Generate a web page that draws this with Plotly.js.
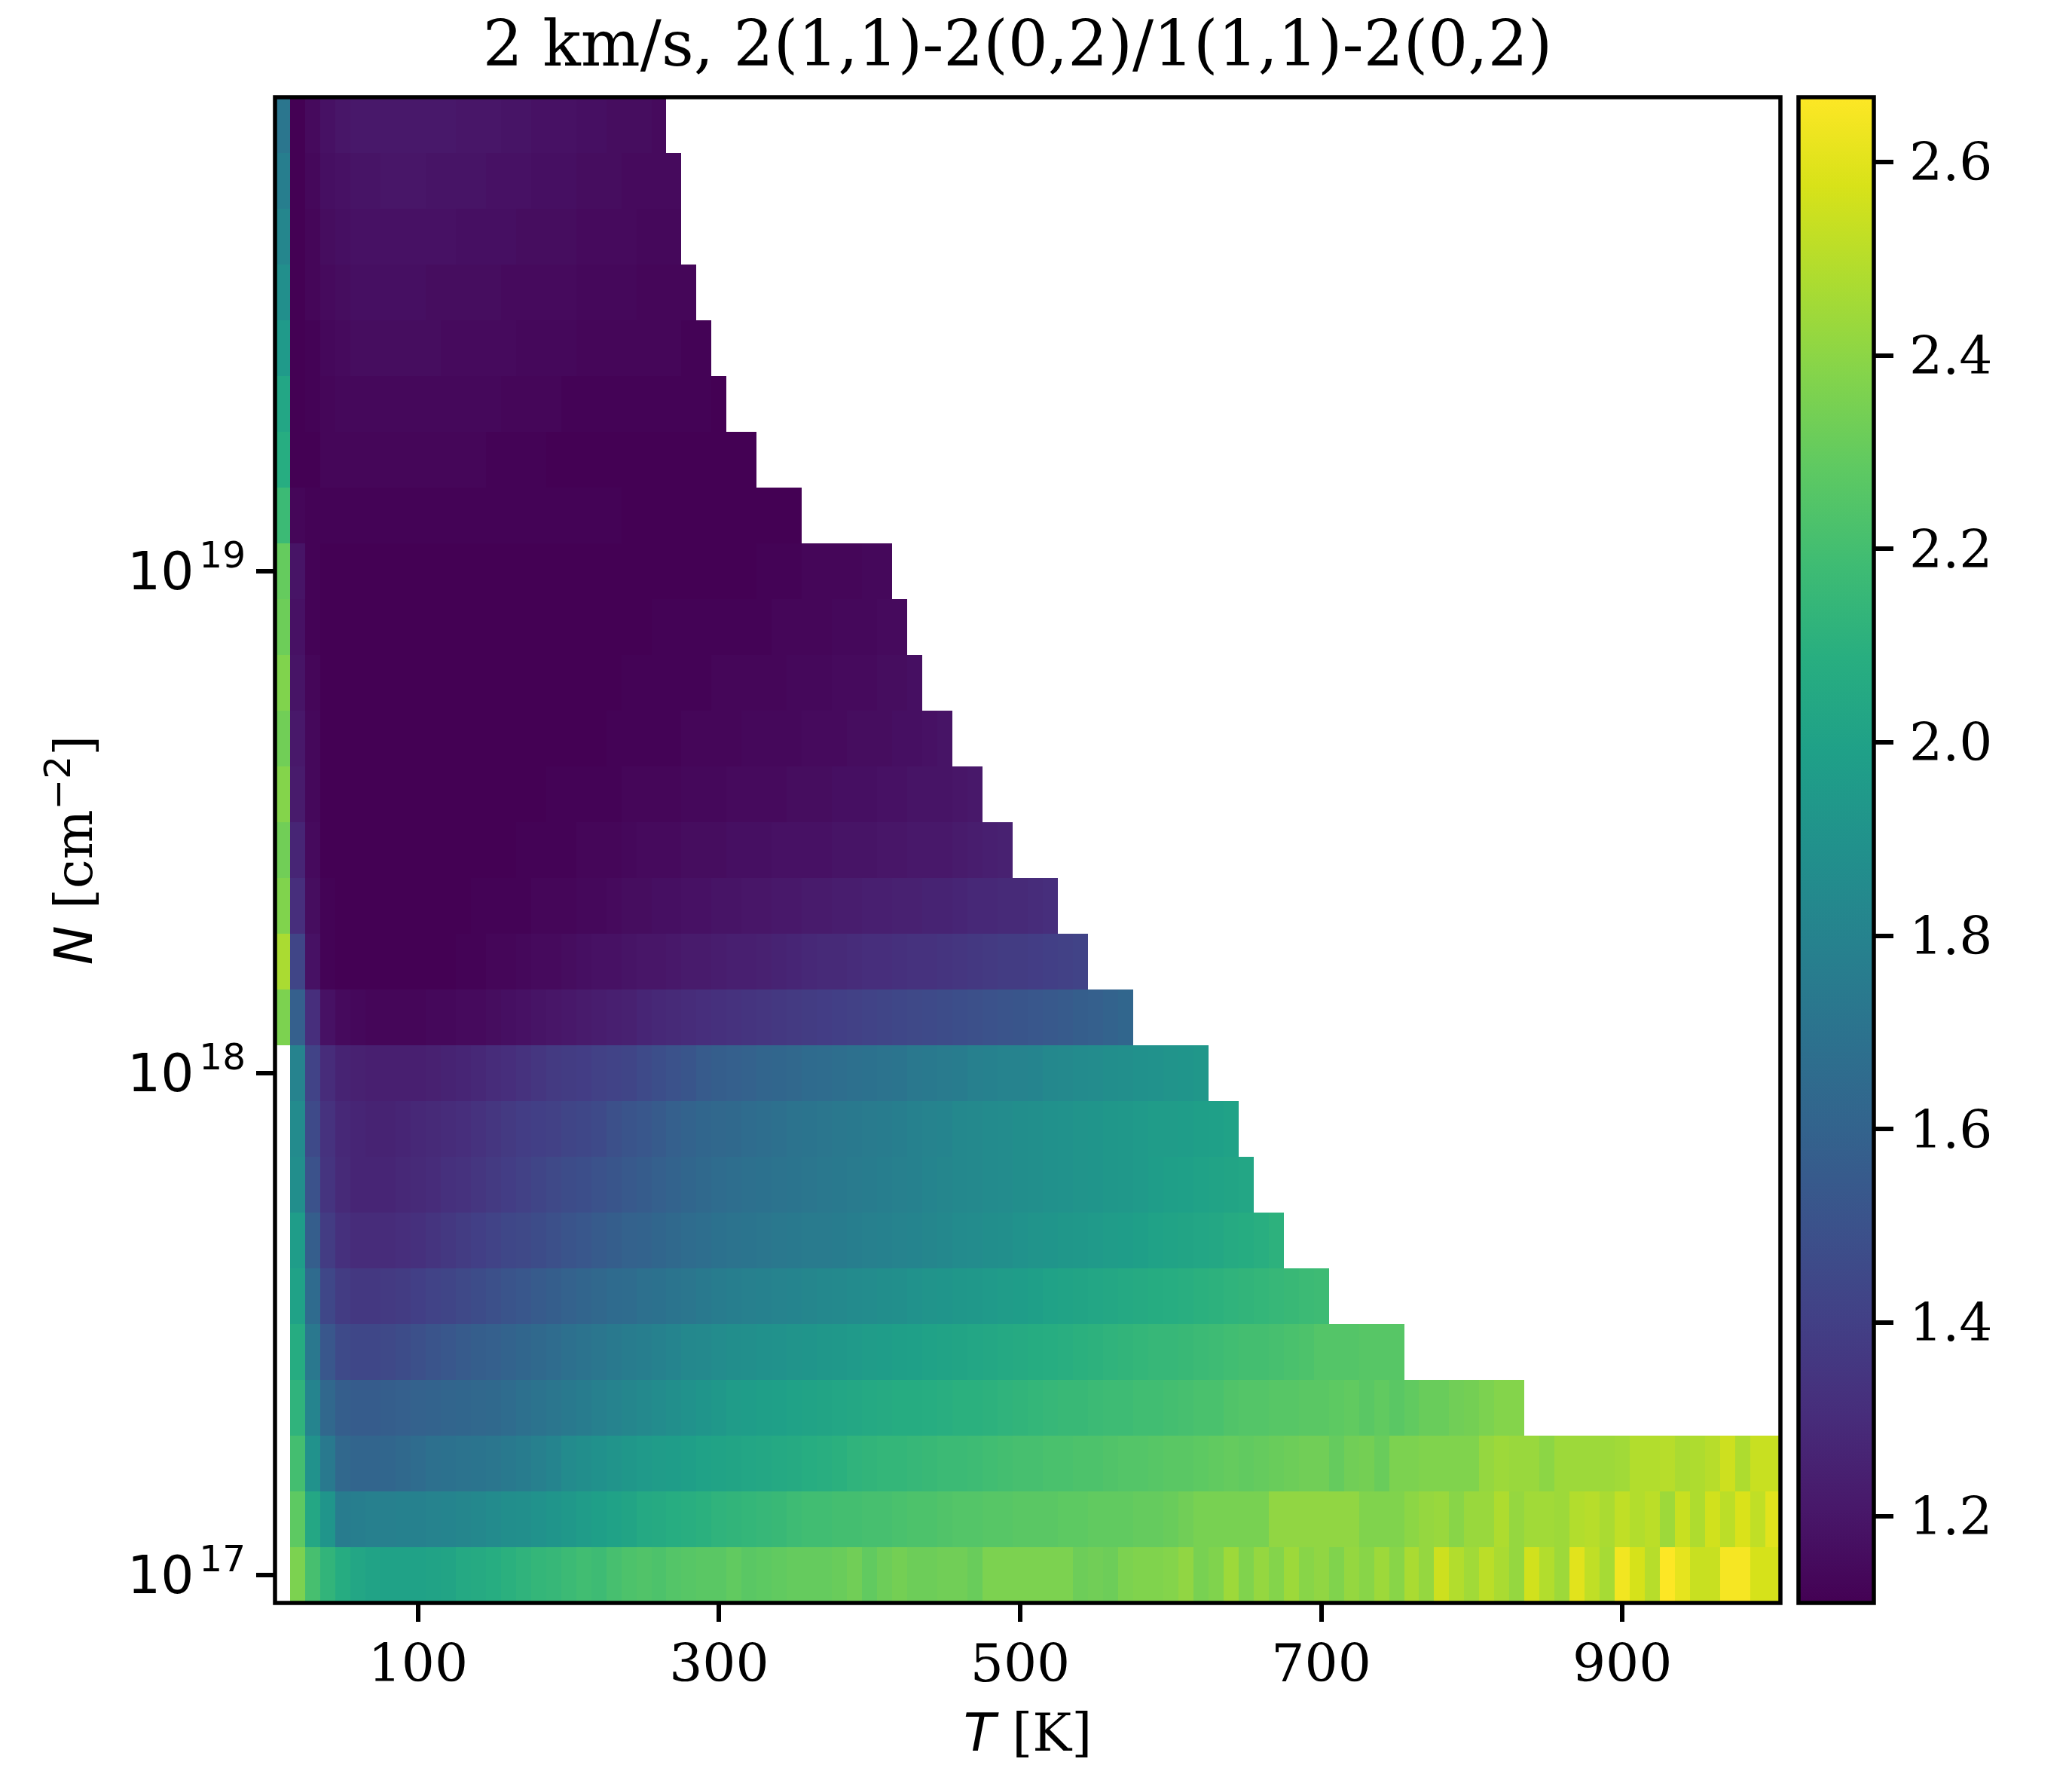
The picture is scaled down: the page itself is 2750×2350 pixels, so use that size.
<!DOCTYPE html>
<html>
<head>
<meta charset="utf-8">
<script src="https://cdn.plot.ly/plotly-3.0.1.min.js"></script>
<style>html,body{margin:0;padding:0;background:#fff}</style>
</head>
<body>
<div id="chart" style="width:2750px;height:2350px"></div>
<script>
const titleText = "2 km/s, 2(1,1)-2(0,2)/1(1,1)-2(0,2)";
const xTickVals = [100,300,500,700,900];
const yTickVals = [1e17,1e18,1e19];
const yTickText = ["10\u200a<sup>17</sup>","10\u200a<sup>18</sup>","10\u200a<sup>19</sup>"];
const temperature = [10,20,30,40,50,60,70,80,90,100,
110,120,130,140,150,160,170,180,190,200,
210,220,230,240,250,260,270,280,290,300,
310,320,330,340,350,360,370,380,390,400,
410,420,430,440,450,460,470,480,490,500,
510,520,530,540,550,560,570,580,590,600,
610,620,630,640,650,660,670,680,690,700,
710,720,730,740,750,760,770,780,790,800,
810,820,830,840,850,860,870,880,890,900,
910,920,930,940,950,960,970,980,990,1000];
const column = [1.000e17,1.292e17,1.668e17,2.154e17,2.783e17,3.594e17,4.642e17,5.995e17,7.743e17,
1.000e18,1.292e18,1.668e18,2.154e18,2.783e18,3.594e18,4.642e18,5.995e18,7.743e18,
1.000e19,1.292e19,1.668e19,2.154e19,2.783e19,3.594e19,4.642e19,5.995e19,7.743e19];

const row00 = [null,2.36,2.21,2.13,2.07,2.03,2.01,2.00,2.00,2.00,
2.01,2.02,2.05,2.06,2.08,2.10,2.12,2.14,2.15,2.17,
2.19,2.18,2.21,2.23,2.24,2.23,2.25,2.26,2.27,2.27,
2.29,2.27,2.28,2.29,2.30,2.30,2.30,2.31,2.33,2.29,
2.32,2.34,2.32,2.32,2.33,2.33,2.31,2.36,2.36,2.36,
2.36,2.36,2.36,2.32,2.33,2.32,2.36,2.37,2.37,2.38,
2.41,2.35,2.37,2.44,2.37,2.42,2.38,2.44,2.39,2.41,
2.37,2.42,2.39,2.44,2.39,2.47,2.42,2.55,2.49,2.45,
2.51,2.47,2.42,2.56,2.49,2.44,2.60,2.52,2.46,2.64,
2.57,2.50,2.667,2.61,2.54,2.54,2.65,2.65,2.57,2.57];
const row01 = [null,2.28,2.04,1.92,1.76,1.77,1.78,1.78,1.79,1.79,
1.80,1.81,1.82,1.83,1.85,1.87,1.88,1.90,1.92,1.94,
1.96,1.98,2.00,2.02,2.05,2.06,2.08,2.09,2.10,2.12,
2.13,2.14,2.15,2.16,2.18,2.19,2.19,2.20,2.20,2.21,
2.21,2.22,2.23,2.23,2.24,2.25,2.25,2.26,2.26,2.27,
2.27,2.27,2.28,2.28,2.29,2.29,2.29,2.30,2.30,2.31,
2.33,2.35,2.35,2.35,2.35,2.35,2.41,2.41,2.41,2.41,
2.41,2.41,2.37,2.37,2.37,2.40,2.42,2.43,2.39,2.43,
2.43,2.48,2.42,2.45,2.45,2.44,2.49,2.50,2.47,2.52,
2.49,2.51,2.44,2.54,2.48,2.56,2.51,2.58,2.52,2.60];
const row02 = [null,2.20,1.90,1.74,1.63,1.61,1.61,1.62,1.64,1.66,
1.68,1.69,1.70,1.71,1.72,1.74,1.76,1.78,1.81,1.85,
1.87,1.89,1.91,1.93,1.95,1.96,1.97,1.98,2.00,2.01,
2.02,2.03,2.04,2.05,2.06,2.08,2.09,2.10,2.12,2.13,
2.14,2.14,2.15,2.16,2.17,2.17,2.18,2.19,2.20,2.21,
2.21,2.22,2.22,2.23,2.23,2.24,2.25,2.25,2.26,2.27,
2.27,2.28,2.29,2.30,2.29,2.30,2.31,2.32,2.33,2.33,
2.30,2.33,2.34,2.31,2.36,2.36,2.37,2.37,2.37,2.37,
2.42,2.44,2.43,2.43,2.40,2.44,2.44,2.44,2.44,2.45,
2.49,2.49,2.50,2.47,2.48,2.50,2.55,2.48,2.54,2.54];
const row03 = [null,2.12,1.81,1.63,1.57,1.56,1.56,1.57,1.58,1.59,
1.60,1.61,1.62,1.63,1.64,1.66,1.68,1.70,1.72,1.74,
1.76,1.78,1.80,1.82,1.84,1.86,1.88,1.90,1.92,1.94,
1.96,1.97,1.98,1.99,2.00,2.01,2.02,2.03,2.04,2.05,
2.06,2.07,2.07,2.08,2.09,2.10,2.10,2.11,2.12,2.13,
2.14,2.15,2.16,2.16,2.17,2.18,2.18,2.19,2.19,2.20,
2.21,2.22,2.22,2.24,2.25,2.25,2.26,2.26,2.27,2.27,
2.28,2.29,2.27,2.29,2.27,2.29,2.31,2.31,2.33,2.34,
2.36,2.38,2.38];
const row04 = [null,2.07,1.73,1.53,1.46,1.44,1.44,1.45,1.47,1.49,
1.51,1.53,1.55,1.57,1.58,1.60,1.62,1.64,1.66,1.68,
1.70,1.72,1.74,1.76,1.77,1.79,1.81,1.83,1.84,1.86,
1.87,1.88,1.89,1.90,1.91,1.92,1.93,1.94,1.95,1.96,
1.97,1.98,1.99,2.00,2.01,2.02,2.03,2.04,2.05,2.06,
2.07,2.08,2.09,2.10,2.11,2.12,2.13,2.14,2.15,2.15,
2.16,2.17,2.18,2.19,2.20,2.20,2.21,2.22,2.23,2.25,
2.25,2.25,2.26,2.26,2.26];
const row05 = [null,2.00,1.65,1.44,1.38,1.36,1.36,1.37,1.38,1.40,
1.42,1.43,1.45,1.47,1.49,1.51,1.53,1.55,1.57,1.59,
1.61,1.63,1.65,1.66,1.68,1.69,1.71,1.72,1.74,1.76,
1.77,1.78,1.79,1.80,1.81,1.82,1.83,1.84,1.85,1.86,
1.87,1.88,1.90,1.91,1.92,1.93,1.94,1.95,1.96,1.97,
1.98,2.00,2.01,2.02,2.03,2.04,2.05,2.06,2.07,2.08,
2.09,2.10,2.11,2.12,2.13,2.14,2.15,2.16,2.17,2.18];
const row06 = [null,1.97,1.57,1.38,1.32,1.30,1.30,1.30,1.31,1.32,
1.34,1.36,1.38,1.40,1.42,1.44,1.45,1.47,1.49,1.51,
1.53,1.55,1.57,1.59,1.60,1.62,1.64,1.66,1.67,1.69,
1.70,1.71,1.72,1.73,1.74,1.75,1.75,1.76,1.77,1.78,
1.79,1.80,1.81,1.82,1.83,1.85,1.86,1.87,1.88,1.90,
1.91,1.92,1.93,1.94,1.95,1.96,1.97,1.98,2.00,2.01,
2.02,2.03,2.04,2.06,2.07,2.09,2.11];
const row07 = [null,1.87,1.50,1.34,1.29,1.27,1.27,1.27,1.28,1.29,
1.30,1.32,1.33,1.35,1.37,1.39,1.41,1.43,1.45,1.47,
1.48,1.50,1.52,1.54,1.56,1.58,1.60,1.62,1.64,1.66,
1.67,1.68,1.69,1.70,1.71,1.72,1.73,1.74,1.75,1.76,
1.77,1.78,1.79,1.81,1.82,1.83,1.84,1.85,1.86,1.87,
1.88,1.89,1.90,1.91,1.92,1.93,1.94,1.95,1.97,1.98,
1.99,2.00,2.01,2.02,2.03];
const row08 = [null,1.85,1.46,1.33,1.28,1.27,1.26,1.26,1.27,1.28,
1.29,1.30,1.31,1.33,1.35,1.37,1.39,1.40,1.41,1.43,
1.44,1.46,1.49,1.51,1.53,1.55,1.58,1.60,1.62,1.63,
1.64,1.66,1.67,1.68,1.70,1.71,1.72,1.73,1.74,1.75,
1.76,1.77,1.79,1.80,1.81,1.83,1.84,1.85,1.86,1.87,
1.88,1.89,1.90,1.91,1.92,1.93,1.94,1.95,1.96,1.96,
1.97,1.98,1.99,2.00];
const row09 = [null,1.80,1.42,1.30,1.26,1.25,1.24,1.24,1.24,1.24,
1.25,1.26,1.27,1.28,1.30,1.31,1.33,1.35,1.37,1.38,
1.39,1.41,1.42,1.43,1.46,1.48,1.50,1.52,1.55,1.57,
1.58,1.59,1.61,1.62,1.63,1.65,1.66,1.67,1.68,1.69,
1.70,1.71,1.73,1.74,1.75,1.76,1.78,1.79,1.80,1.80,
1.81,1.83,1.84,1.85,1.86,1.87,1.88,1.89,1.90,1.91,
1.92,1.93];
const row10 = [2.36,1.58,1.31,1.18,1.15,1.14,1.13,1.13,1.13,1.13,
1.14,1.14,1.15,1.15,1.16,1.17,1.18,1.19,1.20,1.21,
1.22,1.23,1.24,1.25,1.27,1.28,1.29,1.30,1.31,1.32,
1.33,1.34,1.35,1.36,1.37,1.38,1.39,1.40,1.41,1.42,
1.43,1.44,1.45,1.46,1.47,1.48,1.49,1.50,1.51,1.52,
1.53,1.54,1.55,1.57,1.58,1.60,1.62];
const row11 = [2.47,1.43,1.18,1.12,1.11,1.11,1.11,1.11,1.11,1.11,
1.11,1.11,1.12,1.12,1.13,1.13,1.14,1.15,1.15,1.16,
1.17,1.18,1.18,1.19,1.20,1.20,1.21,1.22,1.22,1.23,
1.24,1.24,1.25,1.26,1.27,1.28,1.29,1.29,1.30,1.31,
1.31,1.32,1.33,1.33,1.34,1.35,1.36,1.37,1.38,1.38,
1.39,1.40,1.41,1.42];
const row12 = [2.37,1.31,1.16,1.12,1.11,1.11,1.11,1.11,1.11,1.11,
1.11,1.11,1.11,1.12,1.12,1.12,1.12,1.13,1.13,1.13,
1.14,1.14,1.15,1.16,1.16,1.17,1.17,1.18,1.18,1.19,
1.19,1.20,1.20,1.21,1.21,1.22,1.22,1.23,1.23,1.24,
1.24,1.25,1.25,1.26,1.26,1.27,1.28,1.28,1.29,1.29,
1.30,1.31];
const row13 = [2.33,1.27,1.15,1.11,1.11,1.11,1.11,1.11,1.11,1.11,
1.11,1.11,1.11,1.11,1.11,1.11,1.12,1.12,1.12,1.12,
1.13,1.13,1.13,1.14,1.15,1.15,1.15,1.16,1.16,1.16,
1.17,1.17,1.17,1.18,1.18,1.18,1.18,1.19,1.19,1.19,
1.20,1.20,1.21,1.21,1.21,1.22,1.23,1.24,1.25];
const row14 = [2.38,1.22,1.14,1.11,1.11,1.11,1.11,1.11,1.11,1.11,
1.11,1.11,1.11,1.11,1.11,1.11,1.11,1.11,1.12,1.12,
1.12,1.12,1.12,1.13,1.13,1.13,1.13,1.14,1.14,1.14,
1.15,1.15,1.15,1.15,1.16,1.16,1.16,1.17,1.17,1.17,
1.18,1.18,1.19,1.19,1.19,1.20,1.21];
const row15 = [2.33,1.21,1.14,1.11,1.11,1.11,1.11,1.11,1.11,1.11,
1.11,1.11,1.11,1.11,1.11,1.11,1.11,1.11,1.11,1.11,
1.11,1.11,1.12,1.12,1.12,1.12,1.12,1.13,1.13,1.13,
1.13,1.14,1.14,1.14,1.14,1.15,1.15,1.15,1.16,1.16,
1.16,1.17,1.17,1.18,1.19];
const row16 = [2.37,1.19,1.13,1.11,1.11,1.11,1.11,1.11,1.11,1.11,
1.11,1.11,1.11,1.11,1.11,1.11,1.11,1.11,1.11,1.11,
1.11,1.11,1.11,1.12,1.12,1.12,1.12,1.12,1.12,1.13,
1.13,1.13,1.13,1.13,1.14,1.14,1.14,1.15,1.15,1.15,
1.16,1.16,1.17];
const row17 = [2.32,1.18,1.12,1.11,1.11,1.11,1.11,1.11,1.11,1.11,
1.11,1.11,1.11,1.11,1.11,1.11,1.11,1.11,1.11,1.11,
1.11,1.11,1.11,1.11,1.11,1.12,1.12,1.12,1.12,1.12,
1.12,1.12,1.12,1.13,1.13,1.13,1.13,1.14,1.14,1.14,
1.15,1.15];
const row18 = [2.30,1.19,1.12,1.11,1.11,1.11,1.11,1.11,1.11,1.11,
1.11,1.11,1.11,1.11,1.11,1.11,1.11,1.11,1.11,1.11,
1.11,1.11,1.11,1.11,1.11,1.11,1.11,1.11,1.11,1.11,
1.11,1.11,1.12,1.12,1.12,1.13,1.13,1.13,1.13,1.14,
1.14];
const row19 = [2.17,1.13,1.12,1.12,1.12,1.12,1.12,1.12,1.12,1.12,
1.12,1.12,1.12,1.12,1.12,1.12,1.12,1.12,1.12,1.12,
1.12,1.12,1.12,1.11,1.11,1.11,1.11,1.11,1.11,1.11,
1.11,1.11,1.11,1.11,1.11];
const row20 = [2.08,1.11,1.11,1.13,1.13,1.13,1.13,1.13,1.13,1.13,
1.13,1.13,1.13,1.13,1.12,1.12,1.12,1.12,1.11,1.11,
1.11,1.11,1.11,1.11,1.11,1.11,1.11,1.11,1.11,1.11,
1.11,1.11];
const row21 = [2.03,1.11,1.12,1.13,1.14,1.14,1.14,1.14,1.14,1.14,
1.14,1.14,1.14,1.14,1.14,1.13,1.13,1.13,1.13,1.12,
1.12,1.12,1.12,1.12,1.12,1.12,1.12,1.12,1.12,1.11];
const row22 = [1.95,1.11,1.12,1.14,1.15,1.16,1.16,1.16,1.16,1.16,
1.16,1.15,1.15,1.15,1.15,1.15,1.14,1.14,1.14,1.14,
1.13,1.13,1.13,1.13,1.13,1.13,1.13,1.12,1.12];
const row23 = [1.88,1.11,1.13,1.15,1.16,1.17,1.17,1.17,1.17,1.17,
1.16,1.16,1.16,1.16,1.16,1.15,1.15,1.15,1.15,1.15,
1.14,1.14,1.14,1.14,1.13,1.13,1.13,1.13];
const row24 = [1.82,1.11,1.13,1.16,1.17,1.18,1.18,1.18,1.18,1.18,
1.18,1.18,1.17,1.17,1.17,1.17,1.16,1.16,1.16,1.16,
1.15,1.15,1.15,1.15,1.14,1.14,1.14];
const row25 = [1.77,1.11,1.14,1.17,1.18,1.19,1.19,1.20,1.20,1.20,
1.19,1.19,1.19,1.19,1.18,1.18,1.18,1.17,1.17,1.17,
1.16,1.16,1.16,1.15,1.15,1.15,1.15];
const row26 = [1.72,1.11,1.15,1.18,1.20,1.21,1.21,1.21,1.21,1.21,
1.21,1.21,1.20,1.20,1.20,1.19,1.19,1.18,1.18,1.18,
1.17,1.17,1.16,1.16,1.16,1.15];
const ratio = [row00,row01,row02,row03,row04,row05,row06,row07,row08,row09,row10,row11,row12,row13,
row14,row15,row16,row17,row18,row19,row20,row21,row22,row23,row24,row25,row26];

const serif = "DejaVu Serif";
const sans = "DejaVu Sans";
const black = "#000000";
const lw = 5.5, tl = 24, fs = 69.44;

Plotly.newPlot("chart", [{
  type: "heatmap",
  x: temperature,
  y: column,
  z: ratio,
  colorscale: "Viridis",
  zmin: 1.11,
  zmax: 2.667,
  hoverongaps: false,
  colorbar: {
    x: 1.0119, xanchor: "left", xpad: 0, ypad: 0, y: 0.5, yanchor: "middle",
    lenmode: "pixels", len: 1998, thicknessmode: "pixels", thickness: 100,
    outlinewidth: lw, outlinecolor: black, borderwidth: 0,
    ticks: "outside", ticklen: tl, tickwidth: lw, tickcolor: black,
    tick0: 0, dtick: 0.2, tickformat: ".1f", tickprefix: "\u200a",
    tickfont: {family: serif, size: fs, color: black}
  }
}], {
  width: 2750, height: 2350,
  paper_bgcolor: "#ffffff", plot_bgcolor: "#ffffff",
  margin: {l: 365, r: 387, t: 129, b: 223, pad: 0},
  font: {family: serif, size: fs, color: black},
  title: {text: titleText, font: {family: serif, size: 83.33, color: black},
    x: 0.4911, xref: "container", xanchor: "center", y: 0.963, yref: "container", yanchor: "bottom"},
  xaxis: {
    range: [5, 1005], tickvals: xTickVals, ticktext: xTickVals.map(String),
    ticks: "outside", ticklen: tl, tickwidth: lw, tickcolor: black, showgrid: false, zeroline: false,
    showline: false, automargin: false, ticklabelstandoff: -4,
    tickfont: {family: serif, size: fs, color: black},
    title: {text: '<span style="font-family:DejaVu Sans;font-style:italic">T</span> [K]',
      font: {family: serif, size: fs, color: black}, standoff: 28}
  },
  yaxis: {
    type: "log", range: [16.94444, 19.94444], tickvals: yTickVals, ticktext: yTickText,
    ticks: "outside", ticklen: tl, tickwidth: lw, tickcolor: black, showgrid: false, zeroline: false,
    showline: false, automargin: false,
    tickfont: {family: sans, size: fs, color: black},
    title: {text: '<span style="font-family:DejaVu Sans;font-style:italic">N</span> [cm<sup><span style="font-family:DejaVu Sans">\u22122</span></sup>]',
      font: {family: serif, size: fs, color: black}, standoff: 23}
  },
  shapes: [{type: "rect", xref: "paper", yref: "paper", x0: 0, x1: 1, y0: 0, y1: 1,
    line: {color: black, width: lw}, fillcolor: "rgba(0,0,0,0)", layer: "above"}]
}, {displayModeBar: false, responsive: false});
</script>
</body>
</html>
